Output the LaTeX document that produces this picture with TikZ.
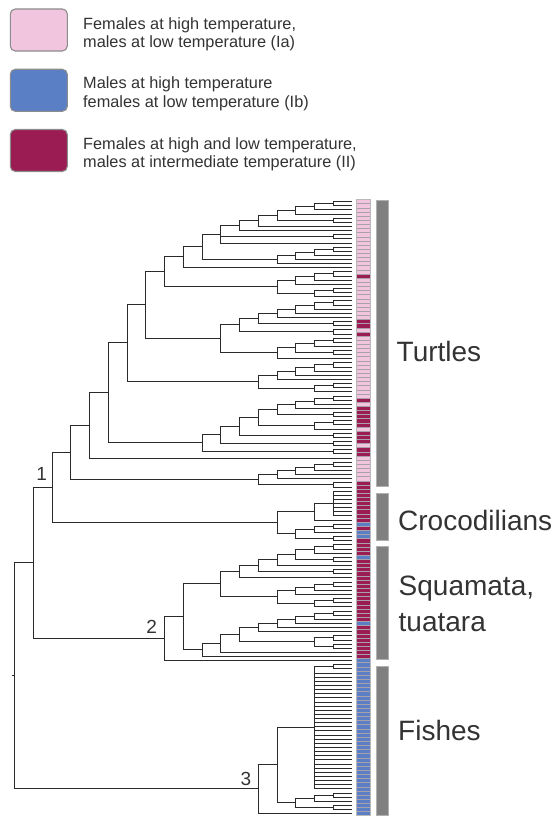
\documentclass[tikz,border=0pt]{standalone}
\usepackage{fontspec}
\setmainfont{Liberation Sans}
\usetikzlibrary{calc}
\definecolor{pinkc}{HTML}{F2C5DF}
\definecolor{purc}{HTML}{9B1C53}
\definecolor{bluc}{HTML}{5B7FC4}
\definecolor{treec}{HTML}{2A2A2A}
\definecolor{barc}{HTML}{808080}
\definecolor{barb}{HTML}{B0B0B0}
\definecolor{sepc}{RGB}{170,160,172}
\definecolor{txtc}{HTML}{333333}
\definecolor{legc}{HTML}{8C8C8C}
% internal node: name, level, first child, last child (snapped to pixel centres)
\newcommand\nd[4]{%
  \path let \p1=(#3), \p2=(#4) in coordinate (#1) at ({(floor(352-18.75*#2)+0.5)*1pt},{(floor(0.5*\y1+0.5*\y2)+0.5)*1pt});
  \draw[br] (#1) |- (#3);
  \draw[br] (#1) |- (#4);
}
\newcommand\cellrect[3]{\fill[#1] (356,{201.7+4.135*(#2-0.5)}) rectangle (370.5,{201.7+4.135*(#3+0.5)});}
\begin{document}
\begin{tikzpicture}[x=1pt,y=-1pt,
  br/.style={draw=treec,line width=1.7pt},
  legbox/.style={draw=legc,line width=1.1pt,rounded corners=5pt,minimum width=57pt,minimum height=42pt,inner sep=0pt},
  legtxt/.style={font=\fontsize{16.3}{19}\selectfont,text=txtc,inner sep=0pt,anchor=base west},
  biglab/.style={font=\fontsize{28}{33}\selectfont,text=txtc,inner sep=0pt,anchor=base west},
  numlab/.style={font=\fontsize{19}{22}\selectfont,text=txtc,inner sep=0pt,anchor=base},
  bar/.style={fill=barc,draw=barb,line width=0.8pt}]
\useasboundingbox (0,0) rectangle (558,816);
\fill[white] (0,0) rectangle (558,816);

% ---------- legend ----------
\node[legbox,fill=pinkc] (lb1) at (38.8,30) {};
\node[legbox,fill=bluc] (lb2) at (38.8,90.3) {};
\node[legbox,fill=purc] (lb3) at (38.8,150.5) {};
\node[legtxt] (lt1a) at (83,29.5) {Females at high temperature,};
\node[legtxt] (lt1b) at (83,48) {males at low temperature (Ia)};
\node[legtxt] (lt2a) at (83,88.8) {Males at high temperature};
\node[legtxt] (lt2b) at (83,107.3) {females at low temperature (Ib)};
\node[legtxt] (lt3a) at (83,149.2) {Females at high and low temperature,};
\node[legtxt] (lt3b) at (83,167.7) {males at intermediate temperature (II)};

% ---------- leaves ----------
\foreach \i in {0,...,148} \coordinate (t\i) at (352,{floor(201.7+4.135*\i)+0.5});

% ---------- Turtles ----------
\nd{c1}{1}{t0}{t1}
\nd{a2}{2}{c1}{t2}
\nd{a3}{3}{a2}{t3}
\nd{c2}{1}{t4}{t5}
\nd{a4}{4}{a3}{c2}
\nd{a5}{5}{a4}{t6}
\nd{a6}{6}{a5}{t7}
\nd{c3}{1}{t8}{t9}
\nd{a7}{7}{a6}{t10}
\draw[br] (a7) |- (c3);
\nd{c4}{1}{t11}{t12}
\nd{b2}{2}{c4}{t13}
\nd{b3}{3}{b2}{t14}
\nd{b4}{4}{b3}{t15}
\nd{a8}{8}{a7}{b4}
\nd{a9}{9}{a8}{t16}
\nd{c5}{1}{t17}{t18}
\nd{cu2}{2}{c5}{t19}
\nd{cu3}{3}{cu2}{t20}
\nd{c6}{1}{t21}{t22}
\nd{cl2}{2}{c6}{t23}
\nd{cC}{4}{cu3}{cl2}
\nd{a10}{10}{a9}{cC}
\nd{d1}{1}{t24}{t25}
\nd{d2}{2}{d1}{t26}
\nd{d3}{3}{d2}{t27}
\nd{d4}{4}{d3}{t28}
\nd{c7}{1}{t29}{t30}
\nd{d5}{5}{d4}{c7}
\nd{c8}{1}{t31}{t32}
\nd{d6}{6}{d5}{c8}
\nd{e1}{1}{t33}{t34}
\nd{e2}{2}{e1}{t35}
\nd{e3}{1}{t36}{t37}
\nd{e4}{3}{e2}{e3}
\nd{e5}{4}{e4}{t38}
\nd{dD}{7}{d6}{e5}
\nd{a11}{11}{a10}{dD}
\nd{f1}{1}{t39}{t40}
\nd{f2}{2}{f1}{t41}
\nd{f3}{3}{f2}{t42}
\nd{f4}{4}{f3}{t43}
\nd{f5}{1}{t44}{t45}
\nd{f6}{2}{f5}{t46}
\nd{eE}{5}{f4}{f6}
\nd{a12}{12}{a11}{eE}
\nd{g1}{1}{t47}{t48}
\nd{g2}{2}{g1}{t49}
\nd{g3}{3}{g2}{t50}
\nd{h1}{1}{t51}{t52}
\nd{g4}{4}{g3}{h1}
\nd{h2}{1}{t53}{t54}
\nd{h3}{2}{h2}{t55}
\nd{g5}{5}{g4}{h3}
\nd{h4}{1}{t56}{t57}
\nd{g6}{6}{g5}{h4}
\nd{h5}{1}{t58}{t59}
\nd{g7}{7}{g6}{h5}
\nd{h6}{1}{t60}{t61}
\nd{fF}{8}{g7}{h6}
\nd{a13}{13}{a12}{fF}
\nd{a14}{14}{a13}{t62}
\nd{k1}{1}{t63}{t64}
\nd{k2}{2}{k1}{t65}
\nd{k3}{3}{k2}{t66}
\nd{k4}{4}{k3}{t67}
\nd{k5}{1}{t68}{t69}
\nd{gG}{5}{k4}{k5}
\nd{a15}{15}{a14}{gG}

% ---------- Crocodilians ----------
\nd{m0}{1}{t70}{t76}
\foreach \i in {71,...,75} \draw[br] (m0) |- (t\i);
\nd{m1}{2}{m0}{t77}
\nd{m2}{1}{t78}{t79}
\nd{m3}{2}{m2}{t80}
\nd{m4}{1}{t81}{t82}
\nd{m5}{3}{m3}{m4}
\nd{crocnode}{4}{m1}{m5}
\nd{a16}{16}{a15}{crocnode}

% ---------- Squamata, tuatara ----------
\nd{s1}{1}{t83}{t84}
\nd{s2}{2}{s1}{t85}
\nd{s2b}{1}{t86}{t87}
\nd{s3}{3}{s2}{s2b}
\nd{s4}{4}{s3}{t88}
\nd{s4b}{1}{t89}{t90}
\nd{s5}{5}{s4}{s4b}
\nd{s6}{6}{s5}{t91}
\nd{u1}{1}{t92}{t93}
\nd{u2}{2}{u1}{t94}
\nd{u3}{3}{u2}{t95}
\nd{u3b}{1}{t96}{t97}
\nd{u3c}{2}{u3b}{t98}
\nd{u4}{4}{u3}{u3c}
\nd{s7}{7}{s6}{u4}
\nd{w1}{1}{t99}{t100}
\nd{w2}{2}{w1}{t101}
\nd{w3}{3}{w2}{t102}
\nd{w4}{4}{w3}{t103}
\nd{w5}{5}{w4}{t104}
\nd{x1}{1}{t105}{t106}
\nd{x1b}{1}{t107}{t108}
\nd{x2}{2}{x1}{x1b}
\nd{w6}{6}{w5}{x2}
\nd{w7}{7}{w6}{t109}
\nd{w8}{8}{w7}{t110}
\nd{s8}{9}{s7}{w8}
\nd{nodeB}{10}{s8}{t111}
\nd{nodeA}{17}{a16}{nodeB}

% ---------- Fishes ----------
\nd{y0}{1}{t112}{t113}
\nd{poly}{2}{y0}{t142}
\foreach \i in {114,...,141} \draw[br] (poly) |- (t\i);
\nd{y1}{1}{t143}{t144}
\nd{y2}{2}{y1}{t145}
\nd{y3}{1}{t146}{t147}
\nd{y4}{3}{y2}{y3}
\nd{y5}{4}{poly}{y4}
\nd{nodeC}{5}{y5}{t148}
\nd{root}{18}{nodeA}{nodeC}
\coordinate (rootstub) at ($(root)+(-2.5,0)$);
\draw[br] (root) -- (rootstub);

% ---------- node labels ----------
\node[numlab] (num1) at (41.7,480) {1};
\node[numlab] (num2) at (151.7,633.3) {2};
\node[numlab] (num3) at (246,785) {3};

% ---------- colour strip ----------
\cellrect{pinkc}{0}{67}
\foreach \i in {18,29,30,32,48,50,51,52,53,54,56,57,58,60,61} {\cellrect{purc}{\i}{\i}}
\cellrect{purc}{68}{110}
\foreach \i in {78,80,81,86,102} {\cellrect{bluc}{\i}{\i}}
\cellrect{bluc}{111}{148}
\foreach \i in {1,...,148} \draw[sepc,line width=0.6pt] (356,{201.7+4.135*(\i-0.5)}) -- (370.5,{201.7+4.135*(\i-0.5)});
\draw[gray!55,line width=0.7pt] (356,{201.7-4.135*0.5}) rectangle (370.5,{201.7+4.135*148.5});

% ---------- group bars ----------
\draw[bar] (376,200.7) rectangle (388,486.5);
\draw[bar] (376,493) rectangle (388,540.5);
\draw[bar] (376,546) rectangle (388,659.5);
\draw[bar] (376,666.5) rectangle (388,815.3);

% ---------- group labels ----------
\node[biglab] (labTurt) at (396.5,361.7) {Turtles};
\node[biglab] (labCroc) at (398,530) {Crocodilians};
\node[biglab] (labSquaA) at (398.5,595) {Squamata,};
\node[biglab] (labSquaB) at (398.5,631.5) {tuatara};
\node[biglab] (labFish) at (398,740) {Fishes};
\end{tikzpicture}
\end{document}
